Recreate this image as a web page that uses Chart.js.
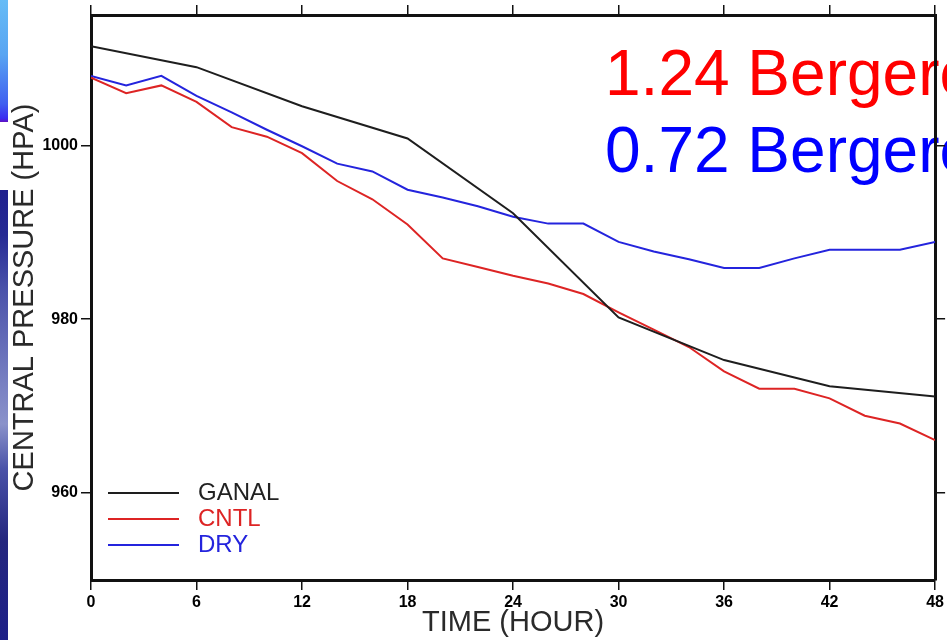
<!DOCTYPE html>
<html>
<head>
<meta charset="utf-8">
<script src="https://cdn.jsdelivr.net/npm/chart.js@4.4.1/dist/chart.umd.min.js"></script>
<style>
html, body { margin: 0; padding: 0; background: #fff; }
#wrap { position: relative; width: 947px; height: 640px; overflow: hidden; }
.strip { position: absolute; left: 0; width: 8px; }
</style>
</head>
<body>
<div id="wrap">
  <canvas id="pressure" width="947" height="640"></canvas>
  <div class="strip" style="top:0;height:122px;background:linear-gradient(#66bcf6 0%, #58a4f2 45%, #4060f0 85%, #3a2cf0 97%, #6010c0 100%);"></div>
  <div class="strip" style="top:190px;height:450px;background:linear-gradient(#20208e 0%, #262a94 10%, #4a52aa 22%, #7c84c4 45%, #8a92ca 52%, #4a52a8 62%, #24267e 78%, #1e2088 100%);"></div>
</div>
<script>
// hours
const hours6 = [0, 6, 12, 18, 24, 30, 36, 42, 48];
const hours2 = [0, 2, 4, 6, 8, 10, 12, 14, 16, 18, 20, 22, 24, 26, 28, 30, 32, 34, 36, 38, 40, 42, 44, 46, 48];

// central pressure (hPa)
const ganal = [1011.4, 1009.0, 1004.5, 1000.8, 992.2, 980.2, 975.3, 972.3, 971.1];
const cntl = [1007.8, 1006.0, 1006.9, 1005.0, 1002.1, 1001.0, 999.1, 995.9, 993.8, 990.9, 987.0, 986.0,
              985.0, 984.1, 982.9, 980.8, 978.8, 976.8, 974.0, 972.0, 972.0, 970.9, 968.9, 968.0, 966.1];
const dry = [1008.0, 1006.9, 1008.0, 1005.7, 1003.8, 1001.8, 999.9, 997.9, 997.0, 994.9, 994.0, 993.0,
             991.8, 991.0, 991.0, 988.9, 987.8, 986.9, 985.9, 985.9, 987.0, 988.0, 988.0, 988.0, 988.9];

const xTicks = [0, 6, 12, 18, 24, 30, 36, 42, 48];
const yTicks = [960, 980, 1000];

const noteLabels = ['1.24 Bergeron', '0.72 Bergeron'];
const noteColors = ['#ff0000', '#0000ff'];

function pairs(xs, ys) {
    return xs.map((x, i) => ({ x: x, y: ys[i] }));
}

const notesPlugin = {
    id: 'notes',
    beforeDraw(chart) {
        const ctx = chart.ctx;
        ctx.save();
        ctx.fillStyle = '#fff';
        ctx.fillRect(0, 0, chart.width, chart.height);
        ctx.font = '64px "Liberation Sans"';
        ctx.textBaseline = 'alphabetic';
        noteLabels.forEach((t, i) => {
            ctx.fillStyle = noteColors[i];
            ctx.fillText(t, 605, 95 + i * 77);
        });
        ctx.restore();
    },
    afterDatasetsDraw(chart) {
        // legend inside the plot, lower left
        const ctx = chart.ctx;
        const area = chart.chartArea;
        ctx.save();
        ctx.font = '24px "Liberation Sans"';
        ctx.textBaseline = 'middle';
        chart.data.datasets.forEach((ds, i) => {
            const y = area.bottom - 87 + i * 26;
            ctx.strokeStyle = ds.borderColor;
            ctx.lineWidth = 2;
            ctx.beginPath();
            ctx.moveTo(area.left + 17, y);
            ctx.lineTo(area.left + 88, y);
            ctx.stroke();
            ctx.fillStyle = ds.legendColor;
            ctx.fillText(ds.label, area.left + 107, y);
        });
        ctx.restore();
    }
};

const frameGrid = { drawOnChartArea: false, drawTicks: true, tickLength: 10, color: '#111', lineWidth: 1.5 };
const frameBorder = { display: true, color: '#111', width: 3 };
const tickFont = { family: '"Liberation Sans"', size: 16, weight: 'bold' };

new Chart(document.getElementById('pressure'), {
    type: 'line',
    data: {
        datasets: [{
            label: 'GANAL',
            data: pairs(hours6, ganal),
            borderColor: '#1e1e1e',
            legendColor: '#222',
            borderWidth: 2,
            pointRadius: 0,
            tension: 0
        }, {
            label: 'CNTL',
            data: pairs(hours2, cntl),
            borderColor: '#dd2424',
            legendColor: '#dd2424',
            borderWidth: 2,
            pointRadius: 0,
            tension: 0
        }, {
            label: 'DRY',
            data: pairs(hours2, dry),
            borderColor: '#2424dd',
            legendColor: '#2424dd',
            borderWidth: 2,
            pointRadius: 0,
            tension: 0
        }]
    },
    options: {
        responsive: false,
        animation: false,
        layout: { padding: 0 },
        plugins: { legend: { display: false }, tooltip: { enabled: false } },
        scales: {
            x: {
                type: 'linear', position: 'bottom', min: 0, max: 48,
                afterBuildTicks: (s) => { s.ticks = xTicks.map(v => ({ value: v })); },
                afterFit: (s) => { s.height = 60; },
                grid: frameGrid, border: frameBorder,
                ticks: { color: '#000', padding: 3, font: tickFont, callback: (v) => String(v) },
                title: { display: true, text: 'TIME (HOUR)', color: '#2a2a2a', padding: { top: 0, bottom: 0 },
                         font: { family: '"Liberation Sans"', size: 29 } }
            },
            xTop: {
                type: 'linear', position: 'top', min: 0, max: 48,
                afterBuildTicks: (s) => { s.ticks = xTicks.map(v => ({ value: v })); },
                afterFit: (s) => { s.height = 15; },
                grid: frameGrid, border: frameBorder,
                ticks: { display: false }
            },
            y: {
                type: 'linear', position: 'left', min: 950, max: 1015,
                afterBuildTicks: (s) => { s.ticks = yTicks.map(v => ({ value: v })); },
                afterFit: (s) => { s.width = 91; },
                grid: frameGrid, border: frameBorder,
                ticks: { color: '#000', padding: 3, font: tickFont, callback: (v) => String(v) },
                title: { display: true, text: 'CENTRAL PRESSURE (HPA)', color: '#2a2a2a', padding: { top: 8, bottom: 0 },
                         font: { family: '"Liberation Sans"', size: 29 } }
            },
            yRight: {
                type: 'linear', position: 'right', min: 950, max: 1015,
                afterBuildTicks: (s) => { s.ticks = yTicks.map(v => ({ value: v })); },
                afterFit: (s) => { s.width = 11; },
                grid: frameGrid, border: frameBorder,
                ticks: { display: false }
            }
        }
    },
    plugins: [notesPlugin]
});
</script>
</body>
</html>
